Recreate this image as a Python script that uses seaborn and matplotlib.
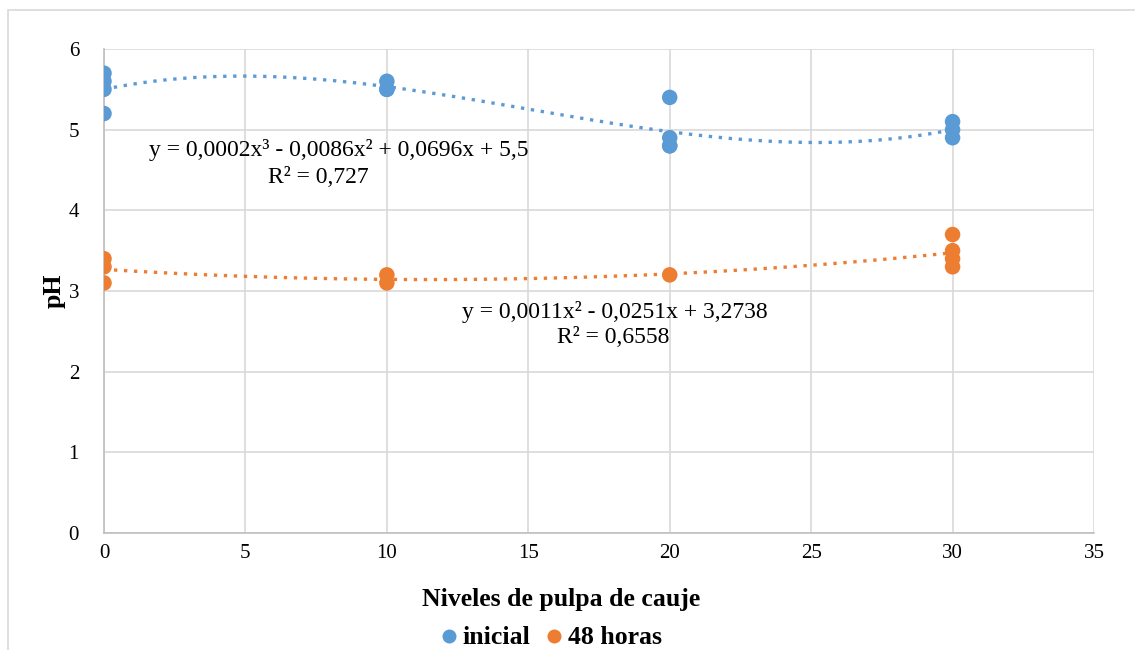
import numpy as np
import pandas as pd
import matplotlib.pyplot as plt
from matplotlib.patches import Rectangle
import seaborn as sns

sns.set_theme(style='whitegrid')
plt.rcParams['font.family'] = ['Liberation Serif', 'DejaVu Serif']
plt.rcParams['text.color'] = 'black'

# data
niveles_inicial = [0, 0, 0, 0, 10, 10, 10, 20, 20, 20, 20, 30, 30, 30]
ph_inicial = [5.7, 5.6, 5.5, 5.2, 5.6, 5.5, 5.5, 5.4, 4.9, 4.8, 4.8, 5.1, 5.0, 4.9]
niveles_48h = [0, 0, 0, 10, 10, 20, 30, 30, 30, 30]
ph_48h = [3.4, 3.3, 3.1, 3.2, 3.1, 3.2, 3.7, 3.5, 3.4, 3.3]
eq_inicial = 'y = 0,0002x³ - 0,0086x² + 0,0696x + 5,5'
r2_inicial = 'R² = 0,727'
eq_48h = 'y = 0,0011x² - 0,0251x + 3,2738'
r2_48h = 'R² = 0,6558'

blue = '#5B9BD5'
orange = '#ED7D31'

df = pd.concat([
    pd.DataFrame({'nivel': niveles_inicial, 'pH': ph_inicial, 'serie': 'inicial'}),
    pd.DataFrame({'nivel': niveles_48h, 'pH': ph_48h, 'serie': '48 horas'}),
])

fig = plt.figure(figsize=(11.35, 6.5), dpi=100)
ax = fig.add_axes([104 / 1135, 1 - 533 / 650, 990 / 1135, 484 / 650])

# chart border (light grey frame, cut off at right and bottom)
fig.patches.append(Rectangle((8 / 1135, -0.1), 1.2, 1 - 10 / 650 + 0.1, transform=fig.transFigure,
                             fill=False, edgecolor='#D9D9D9', linewidth=1.2))

# trendlines fitted to the points
xs = np.linspace(0, 30, 200)
c3 = np.polyfit(niveles_inicial, ph_inicial, 3)
c2 = np.polyfit(niveles_48h, ph_48h, 2)
ax.plot(xs, np.polyval(c3, xs), color=blue, linestyle=(0, (1, 2)), linewidth=2.4, zorder=2)
ax.plot(xs, np.polyval(c2, xs), color=orange, linestyle=(0, (1, 2)), linewidth=2.4, zorder=2)

sns.scatterplot(data=df, x='nivel', y='pH', hue='serie', palette=[blue, orange],
                s=125, edgecolor='none', ax=ax, zorder=3, legend=True)

ax.set_xlim(0, 35)
ax.set_ylim(0, 6)
ax.set_xticks(range(0, 36, 5))
ax.set_yticks(range(0, 7))
ax.tick_params(axis='both', labelsize=15, colors='black', length=0)
ax.tick_params(axis='y', pad=18)
ax.tick_params(axis='x', pad=8)
ax.grid(True, color='#D9D9D9', linewidth=1.2)
for side in ['top', 'right']:
    ax.spines[side].set_visible(False)
for side in ['left', 'bottom']:
    ax.spines[side].set_color('#BFBFBF')
    ax.spines[side].set_linewidth(1.2)

ax.set_xlabel('Niveles de pulpa de cauje', fontsize=18.5, fontweight='bold', color='black')
ax.set_ylabel('pH', fontsize=18.5, fontweight='bold', color='black')
ax.xaxis.set_label_coords(0.462, -0.113)
ax.yaxis.set_label_coords(-0.039, 0.5)

ax.text(8.31, 4.75, eq_inicial, fontsize=17, ha='center', va='center')
ax.text(7.56, 4.41, r2_inicial, fontsize=17, ha='center', va='center')
ax.text(18.06, 2.74, eq_48h, fontsize=17, ha='center', va='center')
ax.text(17.99, 2.42, r2_48h, fontsize=17, ha='center', va='center')

handles, labels = ax.get_legend_handles_labels()
ax.legend(handles, labels, loc='center', bbox_to_anchor=(550 / 1135, 1 - 638 / 650),
          bbox_transform=fig.transFigure, ncol=2, frameon=False,
          prop={'family': 'Liberation Serif', 'size': 18.5, 'weight': 'bold'},
          handlelength=0.8, handletextpad=0.15, columnspacing=0.5, markerscale=0.9)

fig.savefig('out.png', dpi=100)
